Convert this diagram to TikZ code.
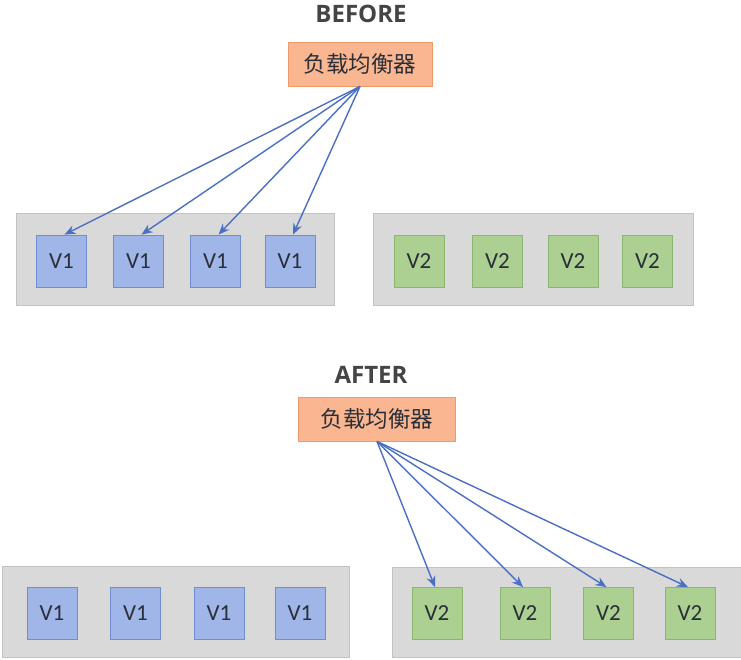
\documentclass[tikz,border=0pt]{standalone}
\usepackage{fontspec}
\setmainfont{Carlito}
\newfontfamily\cjk{Noto Sans CJK SC}
\newfontfamily\titlefont{Open Sans}
\usetikzlibrary{arrows.meta}
\definecolor{grayfill}{HTML}{D9D9D9}
\definecolor{grayline}{HTML}{C2C2C2}
\definecolor{bluefill}{HTML}{A0B6E8}
\definecolor{blueline}{HTML}{6E8ECF}
\definecolor{greenfill}{HTML}{ABD091}
\definecolor{greenline}{HTML}{8AB66D}
\definecolor{orangefill}{HTML}{F9B690}
\definecolor{orangeline}{HTML}{F09A6A}
\definecolor{arrowblue}{HTML}{4A6FC4}
\definecolor{txt}{HTML}{2A2E38}
\definecolor{titlegray}{HTML}{444444}
\tikzset{
  container/.style={draw=grayline, fill=grayfill, line width=0.8pt, inner sep=0pt},
  vone/.style={draw=blueline, fill=bluefill, line width=0.8pt, minimum width=50pt, minimum height=52pt, inner sep=0pt, text=txt, font=\fontsize{23}{23}\selectfont},
  vtwo/.style={draw=greenline, fill=greenfill, line width=0.8pt, minimum width=50pt, minimum height=52pt, inner sep=0pt, text=txt, font=\fontsize{23}{23}\selectfont},
  lb/.style={draw=orangeline, fill=orangefill, line width=0.8pt, minimum height=44pt, inner sep=0pt, text=txt, font=\cjk\fontsize{22.5}{22.5}\selectfont},
  ttl/.style={text=titlegray, font=\titlefont\bfseries\fontsize{24}{24}\selectfont},
  conn/.style={draw=arrowblue, line width=1.4pt, -{Stealth[length=11pt,width=9pt]}}
}
\begin{document}
\begin{tikzpicture}[x=1pt,y=-1pt]
\useasboundingbox (0,0) rectangle (741,660);
% BEFORE
\node[ttl] (t1) at (361,14) {BEFORE};
\node[lb, minimum width=144pt] (lb1) at (360,64) {负载均衡器};
\node[container, minimum width=318pt, minimum height=92pt] (c1) at (175,259) {};
\node[container, minimum width=320pt, minimum height=92pt] (c2) at (533,259) {};
\node[vone] (a1) at (61.5,261) {V1};
\node[vone] (a2) at (138.5,261) {V1};
\node[vone] (a3) at (215.5,261) {V1};
\node[vone] (a4) at (290,261) {V1};
\node[vtwo] (b1) at (419,261) {V2};
\node[vtwo] (b2) at (497.5,261) {V2};
\node[vtwo] (b3) at (573,261) {V2};
\node[vtwo] (b4) at (647.5,261) {V2};
\foreach \n in {a1,a2,a3,a4} \draw[conn] (lb1.south) -- ([xshift=3pt]\n.north);
% AFTER
\node[ttl] (t2) at (371,375) {AFTER};
\node[lb, minimum width=157pt] (lb2) at (377,419) {负载均衡器};
\node[container, minimum width=347pt, minimum height=91pt] (c3) at (175.5,611.5) {};
\node[container, minimum width=350pt, minimum height=90pt] (c4) at (567,612) {};
\node[vone] (d1) at (52,613.5) {V1};
\node[vone] (d2) at (135.5,613.5) {V1};
\node[vone] (d3) at (219,613.5) {V1};
\node[vone] (d4) at (300,613.5) {V1};
\node[vtwo] (e1) at (437,613.5) {V2};
\node[vtwo] (e2) at (525,613.5) {V2};
\node[vtwo] (e3) at (608.5,613.5) {V2};
\node[vtwo] (e4) at (690,613.5) {V2};
\foreach \n in {e1,e2,e3,e4} \draw[conn] (lb2.south) -- ([xshift=-2pt]\n.north);
\end{tikzpicture}
\end{document}
